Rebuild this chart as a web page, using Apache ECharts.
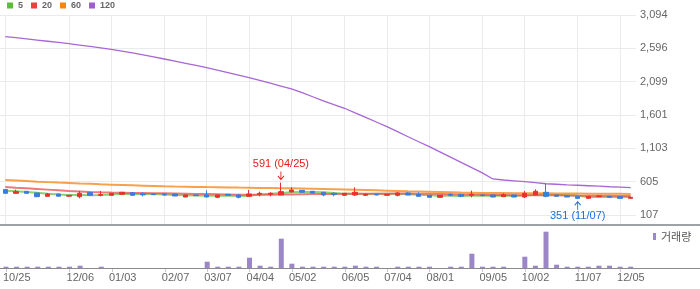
<!DOCTYPE html>
<html>
<head>
<meta charset="utf-8">
<script src="https://cdn.jsdelivr.net/npm/echarts@6/dist/echarts.min.js"></script>
<style>
html,body{margin:0;padding:0;background:#fff;}
#chart{width:700px;height:289px;}
</style>
</head>
<body>
<div id="chart"></div>
<script>
// ---- data ----
const dates = ['10/25','11/01','11/08','11/15','11/22','11/29','12/06','12/13','12/20','12/27',
  '01/03','01/10','01/17','01/24','01/31','02/07','02/14','02/21','02/28','03/07',
  '03/14','03/21','03/28','04/04','04/11','04/18','04/25','05/02','05/09','05/16',
  '05/23','05/30','06/05','06/13','06/20','06/27','07/04','07/11','07/18','07/25',
  '08/01','08/08','08/15','08/22','08/29','09/05','09/13','09/19','09/26','10/02',
  '10/11','10/17','10/24','10/31','11/07','11/14','11/21','11/28','12/05','12/12'];

const tickLabels = ['10/25','12/06','01/03','02/07','03/07','04/04','05/02','06/05','07/04','08/01','09/05','10/02','11/07','12/05'];

const priceTicks = [107, 605, 1103, 1601, 2099, 2596, 3094];

// [open, close, low, high]
const candles = [
  [486,431,428,490],[431,456,428,486],[461,431,428,465],[436,381,372,438],[386,421,384,436],
  [421,388,384,425],[388,400,384,404],[381,431,356,466],[446,401,398,448],[401,414,386,466],
  [401,431,398,434],[416,446,414,448],[441,401,398,444],[421,408,386,446],[421,411,406,425],
  [421,406,396,431],[421,391,388,424],[376,406,374,409],[406,396,392,410],[406,376,372,476],
  [371,406,358,409],[416,401,398,419],[406,371,356,421],[386,421,384,481],[416,431,386,456],
  [416,431,386,446],[406,456,404,591],[451,481,448,520],[476,446,444,480],[461,436,434,464],
  [446,406,386,449],[431,411,386,446],[401,431,398,434],[406,446,391,520],[401,416,391,431],
  [416,406,402,420],[401,416,398,419],[401,436,386,446],[436,406,403,446],[416,386,383,446],
  [401,371,368,404],[371,401,368,404],[416,401,386,431],[416,386,371,419],[401,416,371,471],
  [406,396,392,410],[406,376,373,409],[381,411,378,431],[406,376,373,409],[376,431,361,466],
  [406,461,403,491],[446,386,371,585],[406,386,383,410],[391,376,373,394],[381,356,351,384],
  [356,386,353,389],[381,391,378,406],[386,371,368,389],[381,356,353,384],[356,371,353,374]
];

const ma5 = [471,462,452,440,424,412,404,404,402,405,414,423,420,420,420,414,404,402,398,395,
  395,397,390,395,412,423,434,446,449,450,445,436,426,426,422,423,423,424,416,410,
  403,393,393,389,395,400,395,399,395,398,411,413,404,404,393,377,379,376,372,377];

const ma20 = [525,515,506,496,486,476,466,459,452,446,442,439,436,434,432,431,428,425,422,420,
  417,414,411,410,410,410,412,415,418,420,421,422,423,425,426,426,426,427,427,426,
  424,421,418,415,413,410,407,405,403,401,402,402,401,399,397,396,395,394,392,390];

const ma60 = [630,622,614,605,598,591,585,578,572,565,560,555,550,545,540,535,532,530,527,524,
  522,519,516,514,511,509,507,505,502,499,495,491,487,483,479,475,471,467,462,458,
  454,450,446,442,439,436,435,434,433,432,431,430,429,428,427,426,425,424,423,422];

const ma120 = [2770,2755,2738,2720,2702,2684,2665,2645,2625,2604,2582,2555,2527,2498,2468,2437,2405,2373,2340,2307,
  2271,2234,2196,2158,2117,2075,2032,1989,1935,1873,1810,1755,1701,1633,1566,1496,1426,1351,1276,1201,
  1127,1050,972,893,815,737,645,630,617,604,589,574,566,558,551,544,537,529,522,515];

const volume = [13,13,13,13,13,13,13,23,0,13,0,0,0,0,0,0,0,0,0,63,
  13,13,13,103,23,13,293,43,13,13,13,13,13,23,13,13,0,13,13,13,
  13,0,13,13,143,13,13,13,0,113,23,363,33,13,13,13,23,23,13,13];

// ---- layout / style ----
const FONT = '"Liberation Sans", Arial, sans-serif';
const UP = '#e8312c', DOWN = '#3a7ddc';
const GRID_LEFT = 0, GRID_RIGHT = 64;
const PRICE_TOP = 15, PRICE_H = 200;
const BG_H = 210;
const VOL_TOP = 226, VOL_H = 42;
const tickSet = new Set(tickLabels);
const showTick = (i, v) => tickSet.has(v);

// extreme points
let hiIdx = 0, loIdx = 0;
candles.forEach((c, i) => {
  if (c[3] > candles[hiIdx][3]) hiIdx = i;
  if (c[2] < candles[loIdx][2]) loIdx = i;
});
const hiVal = candles[hiIdx][3], loVal = candles[loIdx][2];

const chart = echarts.init(document.getElementById('chart'), null, {renderer: 'canvas'});

const option = {
  animation: false,
  textStyle: {fontFamily: FONT},
  legend: [{
    data: ['5', '20', '60', '120'],
    left: 7, top: 1, padding: 0,
    icon: 'rect', itemWidth: 6, itemHeight: 6, itemGap: 8,
    selectedMode: false,
    textStyle: {fontSize: 9, fontWeight: 'bold', color: '#666', fontFamily: FONT}
  }, {
    data: ['거래량'],
    left: 653, top: 231, padding: 0,
    icon: 'rect', itemWidth: 3, itemHeight: 7,
    selectedMode: false,
    textStyle: {fontSize: 11, color: '#555', fontFamily: '"Noto Sans CJK KR", sans-serif'}
  }],
  grid: [
    {left: GRID_LEFT, right: GRID_RIGHT, top: PRICE_TOP, height: PRICE_H},
    {left: GRID_LEFT, right: GRID_RIGHT, top: PRICE_TOP, height: BG_H},
    {left: GRID_LEFT, right: GRID_RIGHT, top: VOL_TOP, height: VOL_H}
  ],
  xAxis: [
    {type: 'category', gridIndex: 0, data: dates, boundaryGap: true,
     axisLine: {show: false}, axisTick: {show: false}, axisLabel: {show: false}, splitLine: {show: false}},
    {type: 'category', gridIndex: 1, data: dates, boundaryGap: true,
     axisLine: {show: false}, axisTick: {show: false}, axisLabel: {show: false},
     splitLine: {show: true, interval: showTick, alignWithLabel: true, lineStyle: {color: '#ebebeb', width: 1}}},
    {type: 'category', gridIndex: 2, data: dates, boundaryGap: true,
     axisLine: {show: false},
     axisTick: {show: true, interval: showTick, alignWithLabel: true, length: 4, lineStyle: {color: '#c8c8c8'}},
     axisLabel: {show: true, interval: showTick, align: 'left', margin: 4, padding: [0, 0, 0, -3],
                 color: '#666', fontSize: 11, fontFamily: FONT},
     splitLine: {show: false}}
  ],
  yAxis: [
    {type: 'value', gridIndex: 0, position: 'right',
     min: priceTicks[0], max: priceTicks[priceTicks.length - 1],
     interval: (priceTicks[priceTicks.length - 1] - priceTicks[0]) / (priceTicks.length - 1),
     axisLine: {show: false}, axisTick: {show: false},
     axisLabel: {margin: 4, color: '#666', fontSize: 11, fontFamily: FONT,
                 formatter: (v, i) => (priceTicks[i] !== undefined ? priceTicks[i] : Math.round(v)).toLocaleString('en-US')},
     splitLine: {show: true, lineStyle: {color: '#ebebeb', width: 1}}},
    {type: 'value', gridIndex: 1, show: false, min: 0, max: 1, splitLine: {show: false}},
    {type: 'value', gridIndex: 2, show: false, min: 0, max: 420, splitLine: {show: false}}
  ],
  graphic: [
    {type: 'line', z: 50, shape: {x1: 0, y1: PRICE_TOP + BG_H, x2: 700, y2: PRICE_TOP + BG_H},
     style: {stroke: '#7d8389', lineWidth: 1.5}},
    {type: 'line', z: 50, shape: {x1: 0, y1: VOL_TOP + VOL_H + 0.5, x2: 700, y2: VOL_TOP + VOL_H + 0.5},
     style: {stroke: '#8a8a8a', lineWidth: 1}}
  ],
  series: [
    {name: '5', type: 'line', xAxisIndex: 0, yAxisIndex: 0, data: ma5, symbol: 'none', z: 2,
     color: '#5cbc3e', lineStyle: {color: '#74c95a', width: 2, opacity: 0.85}},
    {name: '20', type: 'line', xAxisIndex: 0, yAxisIndex: 0, data: ma20, symbol: 'none', z: 2,
     color: '#e8413e', lineStyle: {color: '#ec5656', width: 2, opacity: 0.8}},
    {name: '60', type: 'line', xAxisIndex: 0, yAxisIndex: 0, data: ma60, symbol: 'none', z: 2,
     color: '#f7860f', lineStyle: {color: '#f58a1f', width: 2, opacity: 0.8}},
    {name: '120', type: 'line', xAxisIndex: 0, yAxisIndex: 0, data: ma120, symbol: 'none', z: 2,
     color: '#9f5fcf', lineStyle: {color: '#a866d6', width: 1.3}},
    {name: '가격', type: 'candlestick', xAxisIndex: 0, yAxisIndex: 0, data: candles, z: 3,
     barWidth: 5, clip: false,
     itemStyle: {color: UP, color0: DOWN, borderColor: UP, borderColor0: DOWN, borderWidth: 1},
     markPoint: {
       symbolKeepAspect: false,
       data: [
         {coord: [dates[hiIdx], hiVal], value: hiVal,
          symbol: 'path://M4,0 L4,9 M0,5 L4,9 L8,5', symbolSize: [6, 8], symbolOffset: [0, -7],
          itemStyle: {color: 'transparent', borderColor: '#e0201c', borderWidth: 1},
          label: {show: true, position: 'top', distance: 2, color: '#e0201c', fontSize: 11, fontFamily: FONT,
                  formatter: hiVal + ' (' + dates[hiIdx] + ')'}},
         {coord: [dates[loIdx], loVal], value: loVal,
          symbol: 'path://M4,9 L4,0 M0,4 L4,0 L8,4', symbolSize: [6, 8], symbolOffset: [0, 7],
          itemStyle: {color: 'transparent', borderColor: '#1e6fd9', borderWidth: 1},
          label: {show: true, position: 'bottom', distance: 0, color: '#1e6fd9', fontSize: 11, fontFamily: FONT,
                  formatter: loVal + ' (' + dates[loIdx] + ')'}}
       ]
     }},
    {name: 'bg', type: 'line', xAxisIndex: 1, yAxisIndex: 1, data: [], silent: true},
    {name: '거래량', type: 'bar', xAxisIndex: 2, yAxisIndex: 2, data: volume, barWidth: 5,
     color: '#9b87c8', itemStyle: {color: '#9b87c8'}}
  ]
};
chart.setOption(option);
</script>
</body>
</html>
